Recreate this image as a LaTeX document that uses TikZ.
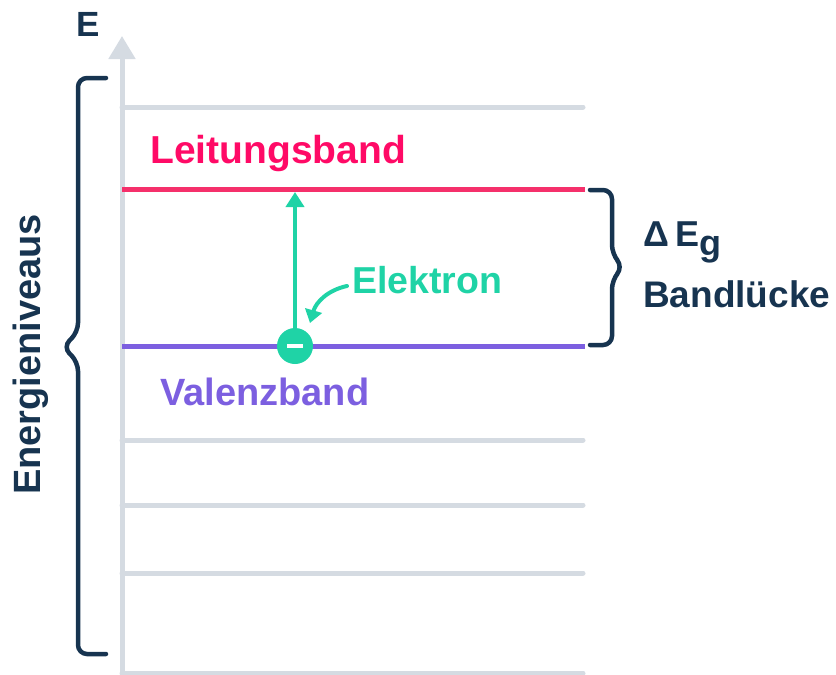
\documentclass[tikz,border=0pt]{standalone}
\usepackage{fontspec}
\setmainfont{Liberation Sans}
\usetikzlibrary{arrows.meta}
\definecolor{navy}{HTML}{173450}
\definecolor{grid}{HTML}{D5DBE2}
\definecolor{cband}{HTML}{F5306B}
\definecolor{ctext}{HTML}{FF0A66}
\definecolor{vband}{HTML}{7C5FE0}
\definecolor{elgreen}{HTML}{1FD3A6}
\tikzset{
  level/.style={grid, line width=5pt, line cap=round},
  bandline/.style={line width=5pt},
  bracepath/.style={navy, line width=4.5pt, line cap=round, rounded corners=9pt},
  lbl/.style={inner sep=0pt, anchor=base west, font=\bfseries},
}
\begin{document}
\begin{tikzpicture}[x=1pt,y=-1pt]
\useasboundingbox (0,0) rectangle (836,675);

% energy levels
\foreach \yy in {107,440,505,573,673}
  \draw[level] (122,\yy) -- (583,\yy);

% energy axis
\draw[grid, line width=5pt, -{Triangle[length=23pt,width=26pt]}] (122,680) -- (122,36);
\node[lbl, text=navy, font=\bfseries\fontsize{35}{35}\selectfont] (elabel) at (76,36) {E};

% conduction and valence band
\draw[cband, bandline] (122,189) -- (585,189);
\draw[vband, bandline] (122,346) -- (585,346);
\node[lbl, text=ctext, font=\bfseries\fontsize{39}{39}\selectfont] (lband) at (150,163) {Leitungsband};
\node[lbl, text=vband, font=\bfseries\fontsize{38}{38}\selectfont] (vlabel) at (160,405) {Valenzband};

% electron and its excitation
\node[circle, fill=elgreen, minimum size=36pt, inner sep=0pt] (el) at (295,346) {};
\draw[white, line width=4pt] ([xshift=-8pt]el.center) -- ([xshift=8pt]el.center);
\coordinate (top) at (295,192);
\draw[elgreen, line width=4pt, -{Triangle[length=15pt,width=18pt]}] (el) -- (top);

\node[lbl, text=elgreen, font=\bfseries\fontsize{37.5}{37.5}\selectfont] (etext) at (352,293) {Elektron};
\coordinate (etail) at (347,286);
\coordinate (ehead) at (310,323);
\draw[elgreen, line width=4pt, line cap=round, -{Triangle[length=13pt,width=17pt]}]
  (etail) .. controls (328,290) and (316,302) .. (ehead);

% band gap brace
\draw[bracepath] (590,190) -- (612,190) -- (612,254) -- (623,267) -- (612,280) -- (612,345) -- (590,345);
\node[lbl, text=navy, font=\bfseries\fontsize{36}{36}\selectfont] (gap) at (643,246) {Δ\,E\raisebox{-9pt}{g}};
\node[lbl, text=navy, font=\bfseries\fontsize{37}{37}\selectfont] (gapname) at (643,307) {Bandlücke};

% brace for the whole energy range
\draw[bracepath] (106,78) -- (78,78) -- (78,332) -- (63,347) -- (78,362) -- (78,654) -- (106,654);
\node[lbl, text=navy, font=\bfseries\fontsize{38}{38}\selectfont, rotate=90] (range) at (40,495) {Energieniveaus};
\end{tikzpicture}
\end{document}
